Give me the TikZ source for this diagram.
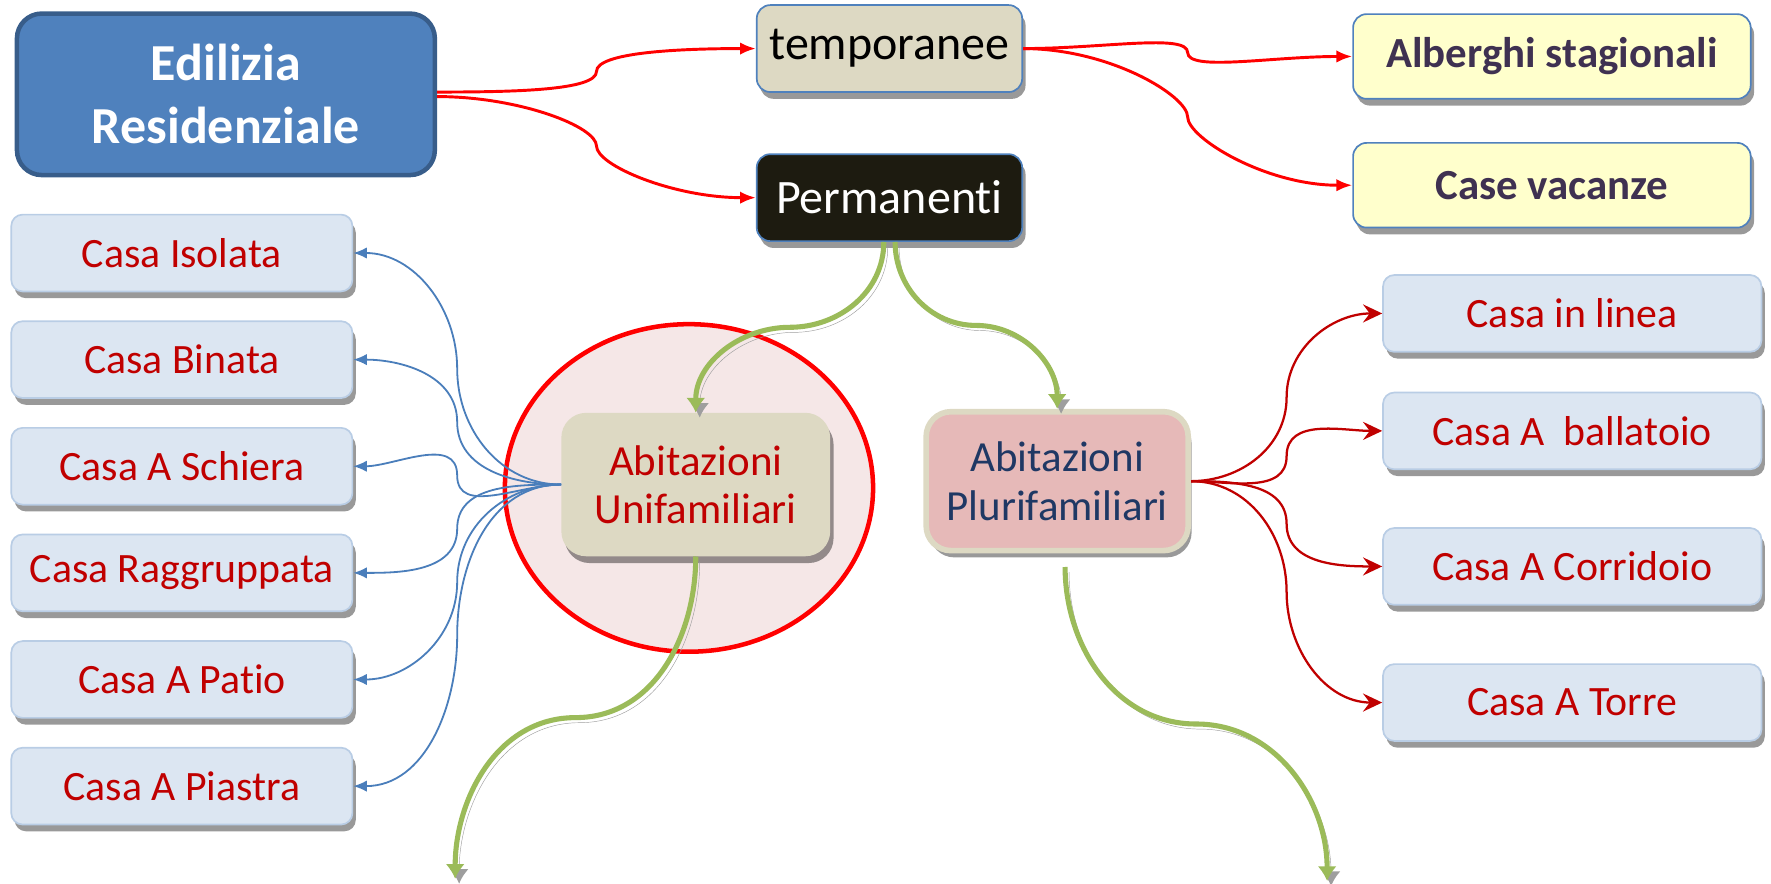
\documentclass[tikz,border=0pt]{standalone}
\usepackage{fontspec}
\setmainfont{Carlito}[Ligatures=NoCommon]
\usetikzlibrary{arrows.meta,calc,positioning,shapes.geometric,shadows}
\definecolor{boxblue}{HTML}{4F81BD}
\definecolor{edgeblue}{HTML}{385D8A}
\definecolor{paleblue}{HTML}{DCE6F2}
\definecolor{lineblue}{HTML}{B9CDE5}
\definecolor{sand}{HTML}{DDD9C3}
\definecolor{rose}{HTML}{E6B9B8}
\definecolor{blush}{HTML}{F5E7E7}
\definecolor{cream}{HTML}{FFFFCC}
\definecolor{darkred}{HTML}{C00000}
\definecolor{navy}{HTML}{1F3864}
\definecolor{plum}{HTML}{3F3151}
\definecolor{olive}{HTML}{9BBB59}
\definecolor{ink}{HTML}{1D1B10}
\definecolor{hubblue}{HTML}{4A7EBB}

\begin{document}
\begin{tikzpicture}[x=1pt,y=-1pt,
  boxshadow/.style={drop shadow={shadow xshift=3pt,shadow yshift=-6pt,fill=black,opacity=.4}},
  rootbox/.style={rectangle,rounded corners=22pt,fill=boxblue,draw=edgeblue,line width=4pt,
    minimum width=370pt,minimum height=143pt,text=white,align=center,
    font=\bfseries\fontsize{46}{56}\selectfont},
  topbox/.style={rectangle,rounded corners=12pt,draw=boxblue,line width=1.5pt,
    minimum width=235pt,minimum height=77pt,boxshadow,font=\fontsize{42.5}{48}\selectfont},
  tempbox/.style={rectangle,rounded corners=12pt,fill=cream,draw=boxblue,line width=1.5pt,
    minimum width=352pt,minimum height=75pt,boxshadow,text=plum,
    font=\bfseries\fontsize{38}{44}\selectfont},
  casabox/.style={rectangle,rounded corners=10pt,fill=paleblue,draw=lineblue,line width=1.5pt,
    minimum width=302pt,minimum height=68pt,boxshadow,text=darkred,
    font=\fontsize{37}{44}\selectfont},
  typebox/.style={rectangle,rounded corners=22pt,minimum width=238pt,minimum height=127pt,
    boxshadow,align=center,font=\fontsize{38}{43}\selectfont},
  ring/.style={ellipse,fill=blush,draw=red,line width=4pt,minimum width=326pt,
    minimum height=290pt,inner sep=0pt},
  redline/.style={draw=red,line width=2.6pt,-{Latex[length=14pt,width=11pt]}},
  blueline/.style={draw=hubblue,line width=1.6pt,-{Latex[length=12pt,width=10pt]}},
  wineline/.style={draw=darkred,line width=2pt,-{Stealth[length=17pt,width=16pt,inset=6pt]}},
  greenline/.style={draw=olive,line width=4.5pt,-{Latex[length=13pt,width=17pt]},
    preaction={draw=black!38,transform canvas={shift={(3.5pt,-4.5pt)}}}},
  flat/.style={out looseness=1.25,in looseness=.3},
  tall/.style={out looseness=.3,in looseness=1.25}]
  \useasboundingbox (0,0) rectangle (1568,782);

  % main branches
  \node[ring] (oval) at (610,432) {};
  \node[rootbox] (edil) at (200,83.5) {Edilizia\\Residenziale};
  \node[topbox,fill=sand] (temp) at (787.5,43) {temporanee};
  \node[topbox,fill=ink,text=white] (perm) at (787.5,175) {Permanenti};
  \node[tempbox] (hotel) at (1374,50) {Alberghi stagionali};
  \node[tempbox] (holiday) at (1374,164) {Case vacanze};

  \node[typebox,fill=sand,text=darkred] (uni) at (616,429) {Abitazioni\\Unifamiliari};
  \node[typebox,fill=rose,draw=sand,line width=5pt,minimum width=232pt,minimum height=123pt,
    text=navy] (pluri) at (936,426) {Abitazioni\\Plurifamiliari};

  % single family types
  \foreach \n/\t [count=\i] in {isol/Casa Isolata,bin/Casa Binata,schi/Casa A Schiera,
      ragg/Casa Raggruppata,pat/Casa A Patio,pias/Casa A Piastra}
    \node[casabox] (\n) at (161,{224+94.4*(\i-1)}) {\t};

  % multi family types
  \node[casabox,minimum width=335pt] (line) at (1392,277.5) {Casa in linea};
  \node[casabox,minimum width=335pt] (ball) at (1392,381.5) {Casa A\ \ ballatoio};
  \node[casabox,minimum width=335pt] (corr) at (1392,501.5) {Casa A Corridoio};
  \node[casabox,minimum width=335pt] (tower) at (1392,622) {Casa A Torre};

  \coordinate (uniend) at (403,778);
  \coordinate (pluriend) at (1175,780);

  \draw[redline] ([yshift=2pt]edil.east) to[out=0,in=-90,flat] ($(edil.east)!.5!(temp.west)$)
    to[out=90,in=180,tall] (temp.west);
  \draw[redline] ([yshift=-2pt]edil.east) to[out=0,in=90,flat] ($(edil.east)!.5!(perm.west)$)
    to[out=-90,in=180,tall] (perm.west);
  \draw[redline] (temp.east) to[out=0,in=90,flat] ($(temp.east)!.5!(hotel.west)$)
    to[out=-90,in=180,tall] (hotel.west);
  \draw[redline] (temp.east) to[out=0,in=90,flat] ($(temp.east)!.5!(holiday.west)$)
    to[out=-90,in=180,tall] (holiday.west);

  \foreach \n/\a/\b in {isol/-90/90,bin/-90/90,schi/-90/90,ragg/90/-90,pat/90/-90,pias/90/-90}
    \draw[blueline] (uni.west) to[out=180,in=\a] ($(uni.west)!.5!(\n.east)$)
      to[out=\b,in=0] (\n.east);

  \foreach \n/\a/\b in {line/-90/90,ball/-90/90,corr/90/-90,tower/90/-90}
    \draw[wineline] (pluri.east) to[out=0,in=\a] ($(pluri.east)!.5!(\n.west)$)
      to[out=\b,in=180] (\n.west);

  \draw[greenline] ([xshift=-5pt]perm.south) to[out=-90,in=0]
    ($([xshift=-5pt]perm.south)!.5!(uni.north)$) to[out=180,in=90] (uni.north);
  \draw[greenline] ([xshift=5pt]perm.south) to[out=-90,in=180]
    ($([xshift=5pt]perm.south)!.5!(pluri.north)$) to[out=0,in=90] (pluri.north);
  \draw[greenline] (uni.south) to[out=-90,in=0] ($(uni.south)!.5!(uniend)$)
    to[out=180,in=90] (uniend);
  \draw[greenline] ([xshift=7pt,yshift=-12pt]pluri.south) to[out=-90,in=180]
    ($([xshift=7pt,yshift=-12pt]pluri.south)!.5!(pluriend)$) to[out=0,in=90] (pluriend);
\end{tikzpicture}
\end{document}
